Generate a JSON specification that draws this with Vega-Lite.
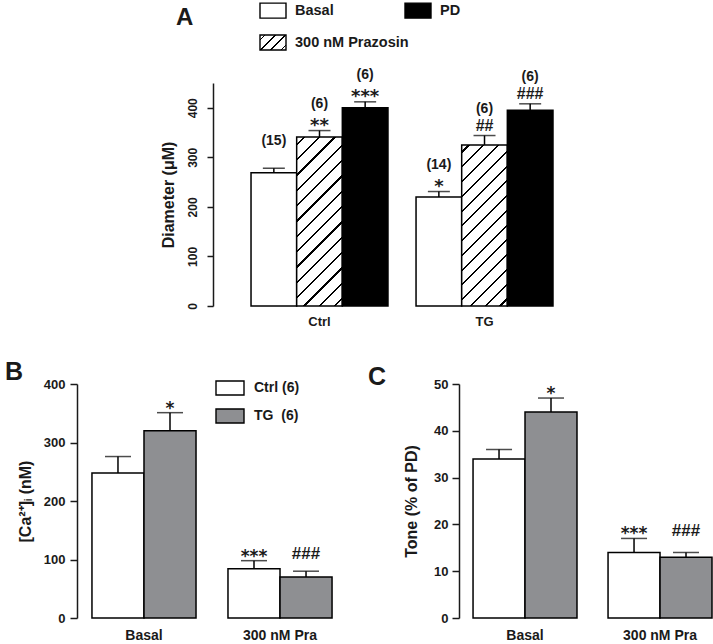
{
  "$schema": "https://vega.github.io/schema/vega-lite/v6.json",
  "background": "white",
  "padding": {"left": 5, "top": 2, "right": 0, "bottom": 0},
  "spacing": 32,
  "config": {
    "font": "Liberation Sans",
    "view": {"stroke": null},
    "axis": {"labelFont": "Liberation Sans", "labelFontWeight": "bold", "labelColor": "#1a1a1a", "titleFont": "Liberation Sans", "titleColor": "#1a1a1a", "titleFontWeight": "bold", "domainColor": "#1a1a1a", "tickColor": "#1a1a1a", "domainWidth": 1.5, "tickWidth": 1.5, "grid": false},
    "legend": {"labelFont": "Liberation Sans", "labelFontWeight": "bold", "labelColor": "#1a1a1a", "padding": 0, "symbolStrokeColor": "black", "symbolStrokeWidth": 1.4, "title": null},
    "title": {"font": "Liberation Sans", "fontWeight": "bold", "color": "#1a1a1a"}
  },
  "resolve": {"scale": {"fill": "independent", "x": "independent", "y": "independent", "xOffset": "independent"}, "legend": {"fill": "independent"}},
  "vconcat": [
    {
      "width": 514,
      "height": 223,
      "title": {"text": "A", "anchor": "start", "frame": "group", "fontSize": 24, "dx": 99, "dy": 32},
      "data": {"values": [
        {"group": "Ctrl", "treatment": "Basal", "mean": 269, "hi": 278, "n": "(15)", "sig": ""},
        {"group": "Ctrl", "treatment": "300 nM Prazosin", "mean": 341, "hi": 354, "n": "(6)", "sig": "**"},
        {"group": "Ctrl", "treatment": "PD", "mean": 400, "hi": 412, "n": "(6)", "sig": "***"},
        {"group": "TG", "treatment": "Basal", "mean": 220, "hi": 231, "n": "(14)", "sig": "*"},
        {"group": "TG", "treatment": "300 nM Prazosin", "mean": 325, "hi": 344, "n": "(6)", "sig": "##"},
        {"group": "TG", "treatment": "PD", "mean": 395, "hi": 408, "n": "(6)", "sig": "###"}
      ]},
      "encoding": {
        "x": {"field": "group", "type": "nominal", "scale": {"domain": ["Ctrl", "TG"], "paddingInner": 0.17, "paddingOuter": 0.6424, "align": 0.8208}, "axis": {"title": null, "domain": false, "ticks": false, "labelAngle": 0, "labelFontSize": 13, "labelPadding": 9}},
        "xOffset": {"field": "treatment", "type": "nominal", "scale": {"domain": ["Basal", "300 nM Prazosin", "PD"], "range": [0, 136.95], "paddingInner": 0, "paddingOuter": 0}}
      },
      "layer": [
        {
          "mark": {"type": "bar", "stroke": "black", "strokeWidth": 1.5},
          "encoding": {
            "y": {"field": "mean", "type": "quantitative", "scale": {"domain": [0, 450]}, "axis": {"title": "Diameter (μM)", "titleFontSize": 16, "titlePadding": 10, "offset": -136, "values": [0, 100, 200, 300, 400], "labelAngle": -90, "labelAlign": "center", "labelBaseline": "bottom", "labelFontSize": 12, "tickSize": 6, "labelPadding": 8}},
            "fill": {
              "condition": [
                {"test": "datum.treatment === '300 nM Prazosin' && datum.group === 'Ctrl'", "value": {"gradient": "linear", "x1": 0, "y1": 0, "x2": 0.3199, "y2": 1.1838, "stops": [
                  {"offset": 0, "color": "#ffffff"},
                  {"offset": 0.0307, "color": "#ffffff"}, {"offset": 0.0307, "color": "#000000"}, {"offset": 0.0407, "color": "#000000"}, {"offset": 0.0407, "color": "#ffffff"},
                  {"offset": 0.1021, "color": "#ffffff"}, {"offset": 0.1021, "color": "#000000"}, {"offset": 0.1121, "color": "#000000"}, {"offset": 0.1121, "color": "#ffffff"},
                  {"offset": 0.1736, "color": "#ffffff"}, {"offset": 0.1736, "color": "#000000"}, {"offset": 0.1836, "color": "#000000"}, {"offset": 0.1836, "color": "#ffffff"},
                  {"offset": 0.2450, "color": "#ffffff"}, {"offset": 0.2450, "color": "#000000"}, {"offset": 0.2550, "color": "#000000"}, {"offset": 0.2550, "color": "#ffffff"},
                  {"offset": 0.3164, "color": "#ffffff"}, {"offset": 0.3164, "color": "#000000"}, {"offset": 0.3264, "color": "#000000"}, {"offset": 0.3264, "color": "#ffffff"},
                  {"offset": 0.3879, "color": "#ffffff"}, {"offset": 0.3879, "color": "#000000"}, {"offset": 0.3979, "color": "#000000"}, {"offset": 0.3979, "color": "#ffffff"},
                  {"offset": 0.4593, "color": "#ffffff"}, {"offset": 0.4593, "color": "#000000"}, {"offset": 0.4693, "color": "#000000"}, {"offset": 0.4693, "color": "#ffffff"},
                  {"offset": 0.5307, "color": "#ffffff"}, {"offset": 0.5307, "color": "#000000"}, {"offset": 0.5407, "color": "#000000"}, {"offset": 0.5407, "color": "#ffffff"},
                  {"offset": 0.6021, "color": "#ffffff"}, {"offset": 0.6021, "color": "#000000"}, {"offset": 0.6121, "color": "#000000"}, {"offset": 0.6121, "color": "#ffffff"},
                  {"offset": 0.6736, "color": "#ffffff"}, {"offset": 0.6736, "color": "#000000"}, {"offset": 0.6836, "color": "#000000"}, {"offset": 0.6836, "color": "#ffffff"},
                  {"offset": 0.7450, "color": "#ffffff"}, {"offset": 0.7450, "color": "#000000"}, {"offset": 0.7550, "color": "#000000"}, {"offset": 0.7550, "color": "#ffffff"},
                  {"offset": 0.8164, "color": "#ffffff"}, {"offset": 0.8164, "color": "#000000"}, {"offset": 0.8264, "color": "#000000"}, {"offset": 0.8264, "color": "#ffffff"},
                  {"offset": 0.8879, "color": "#ffffff"}, {"offset": 0.8879, "color": "#000000"}, {"offset": 0.8979, "color": "#000000"}, {"offset": 0.8979, "color": "#ffffff"},
                  {"offset": 0.9593, "color": "#ffffff"}, {"offset": 0.9593, "color": "#000000"}, {"offset": 0.9693, "color": "#000000"}, {"offset": 0.9693, "color": "#ffffff"},
                  {"offset": 1, "color": "#ffffff"}
                ]}},
                {"test": "datum.treatment === '300 nM Prazosin' && datum.group === 'TG'", "value": {"gradient": "linear", "x1": 0, "y1": 0, "x2": 0.3370, "y2": 1.1881, "stops": [
                  {"offset": 0, "color": "#ffffff"},
                  {"offset": 0.0307, "color": "#ffffff"}, {"offset": 0.0307, "color": "#000000"}, {"offset": 0.0407, "color": "#000000"}, {"offset": 0.0407, "color": "#ffffff"},
                  {"offset": 0.1021, "color": "#ffffff"}, {"offset": 0.1021, "color": "#000000"}, {"offset": 0.1121, "color": "#000000"}, {"offset": 0.1121, "color": "#ffffff"},
                  {"offset": 0.1736, "color": "#ffffff"}, {"offset": 0.1736, "color": "#000000"}, {"offset": 0.1836, "color": "#000000"}, {"offset": 0.1836, "color": "#ffffff"},
                  {"offset": 0.2450, "color": "#ffffff"}, {"offset": 0.2450, "color": "#000000"}, {"offset": 0.2550, "color": "#000000"}, {"offset": 0.2550, "color": "#ffffff"},
                  {"offset": 0.3164, "color": "#ffffff"}, {"offset": 0.3164, "color": "#000000"}, {"offset": 0.3264, "color": "#000000"}, {"offset": 0.3264, "color": "#ffffff"},
                  {"offset": 0.3879, "color": "#ffffff"}, {"offset": 0.3879, "color": "#000000"}, {"offset": 0.3979, "color": "#000000"}, {"offset": 0.3979, "color": "#ffffff"},
                  {"offset": 0.4593, "color": "#ffffff"}, {"offset": 0.4593, "color": "#000000"}, {"offset": 0.4693, "color": "#000000"}, {"offset": 0.4693, "color": "#ffffff"},
                  {"offset": 0.5307, "color": "#ffffff"}, {"offset": 0.5307, "color": "#000000"}, {"offset": 0.5407, "color": "#000000"}, {"offset": 0.5407, "color": "#ffffff"},
                  {"offset": 0.6021, "color": "#ffffff"}, {"offset": 0.6021, "color": "#000000"}, {"offset": 0.6121, "color": "#000000"}, {"offset": 0.6121, "color": "#ffffff"},
                  {"offset": 0.6736, "color": "#ffffff"}, {"offset": 0.6736, "color": "#000000"}, {"offset": 0.6836, "color": "#000000"}, {"offset": 0.6836, "color": "#ffffff"},
                  {"offset": 0.7450, "color": "#ffffff"}, {"offset": 0.7450, "color": "#000000"}, {"offset": 0.7550, "color": "#000000"}, {"offset": 0.7550, "color": "#ffffff"},
                  {"offset": 0.8164, "color": "#ffffff"}, {"offset": 0.8164, "color": "#000000"}, {"offset": 0.8264, "color": "#000000"}, {"offset": 0.8264, "color": "#ffffff"},
                  {"offset": 0.8879, "color": "#ffffff"}, {"offset": 0.8879, "color": "#000000"}, {"offset": 0.8979, "color": "#000000"}, {"offset": 0.8979, "color": "#ffffff"},
                  {"offset": 0.9593, "color": "#ffffff"}, {"offset": 0.9593, "color": "#000000"}, {"offset": 0.9693, "color": "#000000"}, {"offset": 0.9693, "color": "#ffffff"},
                  {"offset": 1, "color": "#ffffff"}
                ]}}
              ],
              "field": "treatment",
              "type": "nominal",
              "scale": {"domain": ["Basal", "300 nM Prazosin", "PD"], "range": ["#ffffff", {"expr": "{gradient: 'linear', x1: 0, y1: 0, x2: 1.1831, y2: 0.6826, stops: [{offset: 0, color: '#ffffff'}, {offset: 0.105, color: '#ffffff'}, {offset: 0.105, color: '#000000'}, {offset: 0.145, color: '#000000'}, {offset: 0.145, color: '#ffffff'}, {offset: 0.355, color: '#ffffff'}, {offset: 0.355, color: '#000000'}, {offset: 0.395, color: '#000000'}, {offset: 0.395, color: '#ffffff'}, {offset: 0.605, color: '#ffffff'}, {offset: 0.605, color: '#000000'}, {offset: 0.645, color: '#000000'}, {offset: 0.645, color: '#ffffff'}, {offset: 0.855, color: '#ffffff'}, {offset: 0.855, color: '#000000'}, {offset: 0.895, color: '#000000'}, {offset: 0.895, color: '#ffffff'}, {offset: 1, color: '#ffffff'}]}"}, "#000000"]},
              "legend": {"orient": "none", "legendX": 187.5, "legendY": -81, "columns": 2, "columnPadding": -24, "rowPadding": 11, "gridAlign": "each", "symbolType": "M-1.7333,-1H1.7333V1H-1.7333Z", "symbolSize": 225, "labelFontSize": 14.5, "labelOffset": 13.5, "symbolStrokeColor": "black", "symbolStrokeWidth": 1.4,
                "encode": {"symbols": {"update": {"stroke": {"value": "black"}, "strokeWidth": {"value": 1.4}}}}
              }
            }
          }
        },
        {"mark": {"type": "rule", "strokeWidth": 1.5, "color": "black"}, "encoding": {"y": {"field": "mean", "type": "quantitative"}, "y2": {"field": "hi"}}},
        {"mark": {"type": "tick", "size": 22, "thickness": 1.5, "color": "black"}, "encoding": {"y": {"field": "hi", "type": "quantitative"}}},
        {"transform": [{"filter": {"field": "sig", "oneOf": ["*", "**", "***"]}}], "mark": {"type": "text", "font": "DejaVu Sans", "fontWeight": "bold", "fontSize": 18, "baseline": "alphabetic", "dy": 0, "color": "#1a1a1a"}, "encoding": {"y": {"field": "hi", "type": "quantitative"}, "text": {"field": "sig"}}},
        {"transform": [{"filter": {"field": "sig", "oneOf": ["#", "##", "###"]}}], "mark": {"type": "text", "font": "Liberation Sans", "fontWeight": "bold", "fontSize": 16, "baseline": "alphabetic", "dy": -5, "color": "#1a1a1a"}, "encoding": {"y": {"field": "hi", "type": "quantitative"}, "text": {"field": "sig"}}},
        {"transform": [{"filter": {"field": "sig", "equal": ""}}], "mark": {"type": "text", "font": "Liberation Sans", "fontWeight": "bold", "fontSize": 14, "baseline": "alphabetic", "dy": -8, "color": "#1a1a1a"}, "encoding": {"y": {"field": "hi", "type": "quantitative"}, "text": {"field": "n"}}},
        {"transform": [{"filter": {"not": {"field": "sig", "equal": ""}}}], "mark": {"type": "text", "font": "Liberation Sans", "fontWeight": "bold", "fontSize": 14, "baseline": "alphabetic", "dy": -23, "color": "#1a1a1a"}, "encoding": {"y": {"field": "hi", "type": "quantitative"}, "text": {"field": "n"}}}
      ]
    },
    {
      "spacing": 21,
      "resolve": {"scale": {"fill": "independent", "x": "independent", "y": "independent", "xOffset": "independent"}, "legend": {"fill": "independent"}},
      "hconcat": [
        {
          "width": 270,
          "height": 234,
          "title": {"text": "B", "anchor": "start", "frame": "group", "fontSize": 25, "dx": -72, "dy": 16},
          "data": {"values": [
            {"cond": "Basal", "group": "Ctrl (6)", "mean": 248, "hi": 276, "sig": ""},
            {"cond": "Basal", "group": "TG\u00a0 (6)", "mean": 320, "hi": 351, "sig": "*"},
            {"cond": "300 nM Pra", "group": "Ctrl (6)", "mean": 84, "hi": 98, "sig": "***"},
            {"cond": "300 nM Pra", "group": "TG\u00a0 (6)", "mean": 70, "hi": 80, "sig": "###"}
          ]},
          "transform": [{"joinaggregate": [{"op": "max", "field": "hi", "as": "cat_hi"}], "groupby": ["cond"]}],
          "encoding": {
            "x": {"field": "cond", "type": "nominal", "scale": {"domain": ["Basal", "300 nM Pra"], "paddingInner": 0.235, "paddingOuter": 0.11}, "axis": {"title": null, "domain": false, "ticks": false, "labelAngle": 0, "labelFontSize": 14, "labelPadding": 10}},
            "xOffset": {"field": "group", "type": "nominal", "scale": {"domain": ["Ctrl (6)", "TG\u00a0 (6)"], "range": [0, 104.06], "paddingInner": 0, "paddingOuter": 0}}
          },
          "layer": [
            {
              "mark": {"type": "bar", "stroke": "black", "strokeWidth": 1.5},
              "encoding": {
                "y": {"field": "mean", "type": "quantitative", "scale": {"domain": [0, 400]}, "axis": {"title": "[Ca²⁺]ᵢ (nM)", "titleFontSize": 16, "titlePadding": 10, "values": [0, 100, 200, 300, 400], "labelFontSize": 13, "tickSize": 7, "labelPadding": 5}},
                "fill": {"field": "group", "type": "nominal", "scale": {"domain": ["Ctrl (6)", "TG\u00a0 (6)"], "range": ["#ffffff", "#8e8f92"]}, "legend": {"orient": "none", "legendX": 138, "legendY": -11, "rowPadding": 3, "symbolType": "M-1,-0.5H1V0.5H-1Z", "symbolSize": 784, "labelFontSize": 14, "labelOffset": 9, "symbolStrokeColor": "black", "symbolStrokeWidth": 1.4}}
              }
            },
            {"mark": {"type": "rule", "strokeWidth": 1.5, "color": "black"}, "encoding": {"y": {"field": "mean", "type": "quantitative"}, "y2": {"field": "hi"}}},
            {"mark": {"type": "tick", "size": 26, "thickness": 1.5, "color": "black"}, "encoding": {"y": {"field": "hi", "type": "quantitative"}}},
            {"transform": [{"filter": {"field": "sig", "oneOf": ["*", "**", "***"]}}], "mark": {"type": "text", "font": "DejaVu Sans", "fontWeight": "bold", "fontSize": 17, "baseline": "alphabetic", "dy": 1, "color": "#1a1a1a"}, "encoding": {"y": {"field": "cat_hi", "type": "quantitative"}, "text": {"field": "sig"}}},
            {"transform": [{"filter": {"field": "sig", "oneOf": ["#", "##", "###"]}}], "mark": {"type": "text", "font": "Liberation Sans", "fontWeight": "bold", "fontSize": 17, "baseline": "alphabetic", "dy": -2, "color": "#1a1a1a"}, "encoding": {"y": {"field": "cat_hi", "type": "quantitative"}, "text": {"field": "sig"}}}
          ]
        },
        {
          "width": 253,
          "height": 234,
          "title": {"text": "C", "anchor": "start", "frame": "group", "fontSize": 25, "dx": -91, "dy": 16},
          "data": {"values": [
            {"cond": "Basal", "group": "Ctrl (6)", "mean": 34, "hi": 36, "sig": ""},
            {"cond": "Basal", "group": "TG\u00a0 (6)", "mean": 44, "hi": 47, "sig": "*"},
            {"cond": "300 nM Pra", "group": "Ctrl (6)", "mean": 14, "hi": 17, "sig": "***"},
            {"cond": "300 nM Pra", "group": "TG\u00a0 (6)", "mean": 13, "hi": 14, "sig": "###"}
          ]},
          "transform": [{"joinaggregate": [{"op": "max", "field": "hi", "as": "cat_hi"}], "groupby": ["cond"]}],
          "encoding": {
            "x": {"field": "cond", "type": "nominal", "scale": {"domain": ["Basal", "300 nM Pra"], "paddingInner": 0.23, "paddingOuter": 0.052, "align": 1}, "axis": {"title": null, "domain": false, "ticks": false, "labelAngle": 0, "labelFontSize": 14, "labelPadding": 10}},
            "xOffset": {"field": "group", "type": "nominal", "scale": {"domain": ["Ctrl (6)", "TG\u00a0 (6)"], "range": [0, 103.95], "paddingInner": 0, "paddingOuter": 0}}
          },
          "layer": [
            {
              "mark": {"type": "bar", "stroke": "black", "strokeWidth": 1.5},
              "encoding": {
                "y": {"field": "mean", "type": "quantitative", "scale": {"domain": [0, 50]}, "axis": {"title": "Tone (% of PD)", "titleFontSize": 16, "titlePadding": 14, "values": [0, 10, 20, 30, 40, 50], "labelFontSize": 13, "tickSize": 7, "labelPadding": 4}},
                "fill": {"field": "group", "type": "nominal", "scale": {"domain": ["Ctrl (6)", "TG\u00a0 (6)"], "range": ["#ffffff", "#8e8f92"]}, "legend": null}
              }
            },
            {"mark": {"type": "rule", "strokeWidth": 1.5, "color": "black"}, "encoding": {"y": {"field": "mean", "type": "quantitative"}, "y2": {"field": "hi"}}},
            {"mark": {"type": "tick", "size": 26, "thickness": 1.5, "color": "black"}, "encoding": {"y": {"field": "hi", "type": "quantitative"}}},
            {"transform": [{"filter": {"field": "sig", "oneOf": ["*", "**", "***"]}}], "mark": {"type": "text", "font": "DejaVu Sans", "fontWeight": "bold", "fontSize": 17, "baseline": "alphabetic", "dy": 1, "color": "#1a1a1a"}, "encoding": {"y": {"field": "cat_hi", "type": "quantitative"}, "text": {"field": "sig"}}},
            {"transform": [{"filter": {"field": "sig", "oneOf": ["#", "##", "###"]}}], "mark": {"type": "text", "font": "Liberation Sans", "fontWeight": "bold", "fontSize": 17, "baseline": "alphabetic", "dy": -2, "color": "#1a1a1a"}, "encoding": {"y": {"field": "cat_hi", "type": "quantitative"}, "text": {"field": "sig"}}}
          ]
        }
      ]
    }
  ]
}
